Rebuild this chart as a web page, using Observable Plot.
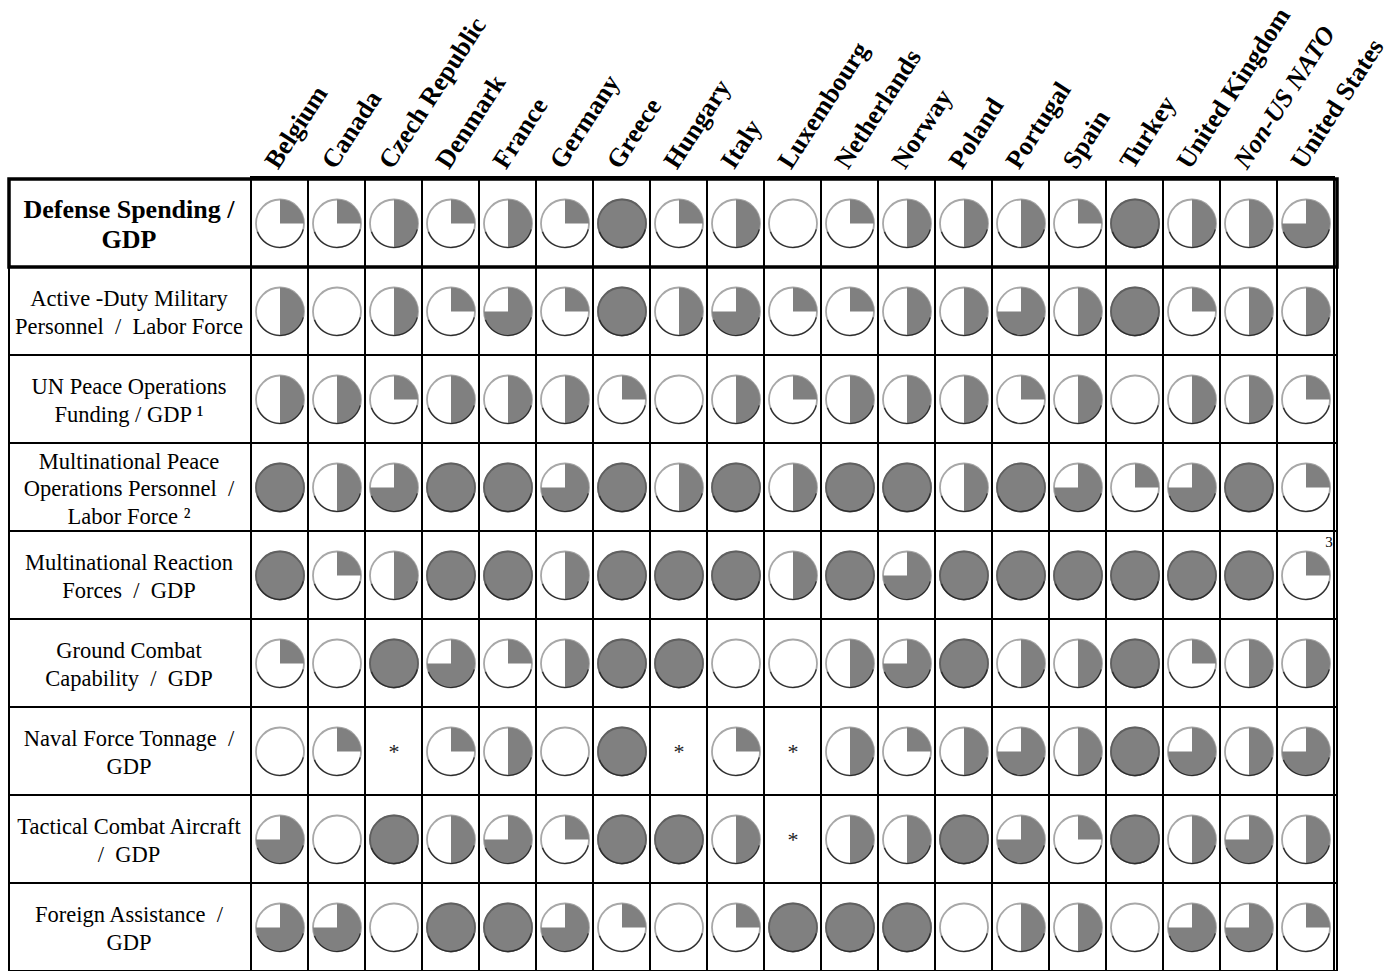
<!DOCTYPE html>
<html><head><meta charset="utf-8">
<script src="https://cdn.jsdelivr.net/npm/d3@7"></script>
<script src="https://cdn.jsdelivr.net/npm/@observablehq/plot@0.6"></script>
<style>
html,body{margin:0;padding:0;background:#fff;}
svg text{white-space:pre;}
</style></head><body><div id="chart"></div>
<script>
const countries = ["Belgium","Canada","Czech Republic","Denmark","France","Germany","Greece","Hungary","Italy","Luxembourg","Netherlands","Norway","Poland","Portugal","Spain","Turkey","United Kingdom","Non-US NATO","United States"];
const rowLabels = [
  "Defense Spending /\nGDP",
  "Active -Duty Military\nPersonnel  /  Labor Force",
  "UN Peace Operations\nFunding / GDP \u00b9",
  "Multinational Peace\nOperations Personnel  /\nLabor Force \u00b2",
  "Multinational Reaction\nForces  /  GDP",
  "Ground Combat\nCapability  /  GDP",
  "Naval Force Tonnage  /\nGDP",
  "Tactical Combat Aircraft\n/  GDP",
  "Foreign Assistance  /\nGDP"
];
// quarters filled (0-4); null = "*"
const defenseSpending     = [1,1,2,1,2,1,4,1,2,0,1,2,2,2,1,4,2,2,3];
const activeDutyPersonnel = [2,0,2,1,3,1,4,2,3,1,1,2,2,3,2,4,1,2,2];
const unPeaceFunding      = [2,2,1,2,2,2,1,0,2,1,2,2,2,1,2,0,2,2,1];
const multiPeacePersonnel = [4,2,3,4,4,3,4,2,4,2,4,4,2,4,3,1,3,4,1];
const reactionForces      = [4,1,2,4,4,2,4,4,4,2,4,3,4,4,4,4,4,4,1];
const groundCombat        = [1,0,4,3,1,2,4,4,0,0,2,3,4,2,2,4,1,2,2];
const navalTonnage        = [0,1,null,1,2,0,4,null,1,null,2,1,2,3,2,4,3,2,3];
const tacticalAircraft    = [3,0,4,2,3,1,4,4,2,null,2,2,4,3,1,4,2,3,2];
const foreignAssistance   = [3,3,0,4,4,3,1,0,1,4,4,4,0,2,2,0,3,3,1];
const cellNotes = [{rowIndex: 4, country: "United States", text: "3"}];

const series = [defenseSpending, activeDutyPersonnel, unPeaceFunding, multiPeacePersonnel,
  reactionForces, groundCombat, navalTonnage, tacticalAircraft, foreignAssistance];
const cells = rowLabels.flatMap((row, i) => countries.map((country, j) => ({row, country, value: series[i][j]})));
const balls = cells.filter(d => d.value != null);
const notes = cellNotes.map(d => ({row: rowLabels[d.rowIndex], country: d.country, text: d.text}));

const sym = fn => ({draw(ctx, size) { fn(ctx, Math.sqrt(size / Math.PI)); }});
const P = Math.PI;
const sectors = {
  1: sym((c, r) => { c.moveTo(0, 0); c.lineTo(0, -r); c.arc(0, 0, r, -P/2, 0); c.closePath(); }),
  2: sym((c, r) => { c.moveTo(0, -r); c.arc(0, 0, r, -P/2, P/2); c.closePath(); }),
  3: sym((c, r) => { c.moveTo(0, 0); c.lineTo(0, -r); c.arc(0, 0, r, -P/2, P); c.closePath(); })
};
const bottomArc = sym((c, r) => { c.moveTo(r*Math.cos(0.25), r*Math.sin(0.25)); c.arc(0, 0, r, 0.25, P - 0.35); });
const R = 24;
const font = "Liberation Serif, Times New Roman, serif";

const chart = Plot.plot({
  width: 1397, height: 971,
  marginTop: 177, marginBottom: -1, marginLeft: 9, marginRight: 60,
  style: {fontFamily: font, background: "white", color: "black", overflow: "visible"},
  x: {type: "band", domain: countries, range: [248, 1337], padding: 0, axis: null},
  y: {type: "band", domain: rowLabels, padding: 0, axis: null},
  marks: [
    Plot.cell(rowLabels, {y: d => d, fill: "none", stroke: "black", strokeWidth: 2, inset: 0}),
    Plot.cell(countries, {x: d => d, fill: "none", stroke: "black", strokeWidth: 2, inset: 0}),
    Plot.cell([rowLabels[0]], {y: d => d, fill: "none", stroke: "black", strokeWidth: 3.5, inset: 0}),
    // Harvey balls
    Plot.dot(balls, {x: "country", y: "row", r: R, fill: "white", stroke: "#a8a8a8", strokeWidth: 1.8}),
    Plot.dot(balls.filter(d => d.value === 4), {x: "country", y: "row", r: R, fill: "#808080", stroke: "#606060", strokeWidth: 1.8}),
    ...[1, 2, 3].map(k => Plot.dot(balls.filter(d => d.value === k), {x: "country", y: "row", r: R, symbol: sectors[k], fill: "#808080", stroke: "none"})),
    Plot.dot(balls, {x: "country", y: "row", r: R, symbol: bottomArc, fill: "none", stroke: "#2a2a2a", strokeWidth: 1.2}),
    // missing values
    Plot.text(cells.filter(d => d.value == null), {x: "country", y: "row", text: () => "*", fontSize: 22, fill: "#222"}),
    Plot.text(notes, {x: "country", y: "row", text: "text", dx: 23, dy: -33, fontSize: 15}),
    // row labels
    Plot.text(rowLabels.slice(0, 1), {y: d => d, text: d => d, frameAnchor: "left", dx: 119.5, textAnchor: "middle", fontSize: 26, fontWeight: "bold", lineHeight: 1.15}),
    Plot.text(rowLabels.slice(1), {y: d => d, text: d => d, frameAnchor: "left", dx: 119.5, textAnchor: "middle", fontSize: 22.5, lineHeight: 1.24}),
    // column headers
    Plot.text(countries.filter(c => c !== "Non-US NATO"), {x: d => d, text: d => d, frameAnchor: "top", rotate: -57, textAnchor: "start", lineAnchor: "bottom", dx: -2, dy: -7, fontSize: 26, fontWeight: "bold"}),
    Plot.text(countries.filter(c => c === "Non-US NATO"), {x: d => d, text: d => d, frameAnchor: "top", rotate: -57, textAnchor: "start", lineAnchor: "bottom", dx: -2, dy: -7, fontSize: 26, fontWeight: "bold", fontStyle: "italic"})
  ]
});
document.getElementById("chart").appendChild(chart);
</script></body></html>
